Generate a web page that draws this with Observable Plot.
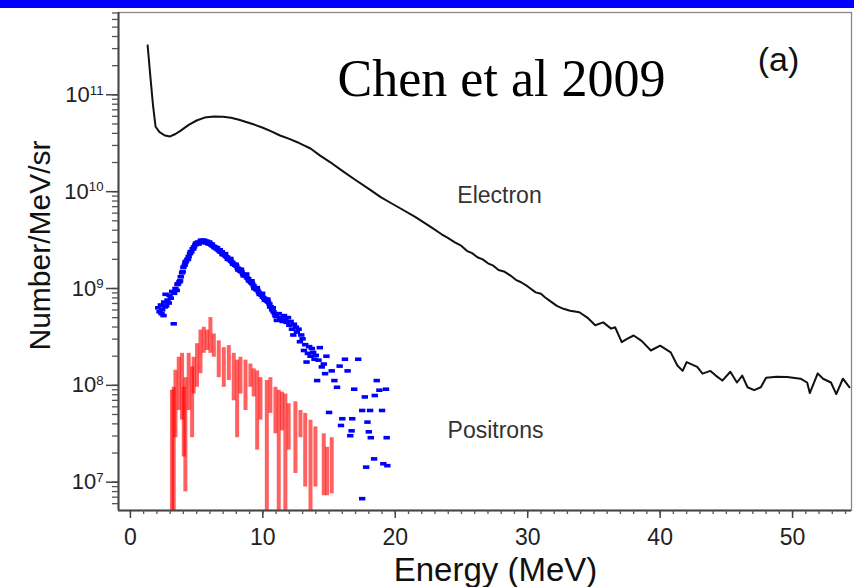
<!DOCTYPE html>
<html>
<head>
<meta charset="utf-8">
<script src="https://cdn.jsdelivr.net/npm/d3@7"></script>
<script src="https://cdn.jsdelivr.net/npm/@observablehq/plot@0.6"></script>
<style>
  body { margin: 0; background: #fff; }
  #wrap { position: relative; width: 854px; height: 587px; overflow: hidden; }
  #bar { position: absolute; left: 0; top: 0; width: 854px; height: 8px; background: #0000ff; }
  #wrap svg { position: absolute; left: 0; top: 0; }
</style>
</head>
<body>
<div id="wrap"><div id="bar"></div></div>
<script>
// Electron spectrum (MeV, Number/MeV/sr)
const electronE = [
  1.3, 1.5, 1.7, 1.9, 2.2, 2.6, 3.0, 3.4, 3.8, 4.4,
  5.0, 5.6, 6.3, 7.0, 7.6, 8.2, 8.8, 9.4, 10.0, 10.6,
  11.3, 12.0, 12.6, 13.1, 13.6, 14.3, 15.1, 16.0, 17.0, 18.0,
  18.9, 19.7, 20.4, 21.5, 22.7, 23.5, 24.0, 24.5, 25.0, 25.4,
  25.8, 26.2, 26.6, 27.0, 27.4, 27.8, 28.2, 28.7, 29.1, 29.5,
  30.0, 30.6, 31.0, 31.3, 31.7, 32.2, 32.7, 33.2, 33.9, 34.5,
  35.1, 35.7, 36.3, 36.6, 37.1, 37.5, 38.0, 38.6, 39.3, 40.0,
  40.8, 41.3, 41.7, 42.0, 42.8, 43.2, 43.8, 44.2, 44.7, 45.3,
  45.8, 46.2, 46.6, 47.1, 47.6, 48.0, 48.8, 49.6, 50.6, 51.1,
  51.3, 51.9, 52.3, 52.9, 53.3, 53.8, 54.3
];
const electronN = [
  3.24e11, 1.58e11, 7.94e10, 4.68e10, 4.12e10, 3.80e10, 3.72e10, 3.94e10, 4.27e10, 4.90e10,
  5.43e10, 5.82e10, 5.97e10, 5.93e10, 5.79e10, 5.52e10, 5.21e10, 4.90e10, 4.57e10, 4.22e10,
  3.80e10, 3.51e10, 3.24e10, 3.01e10, 2.79e10, 2.37e10, 2.01e10, 1.64e10, 1.32e10, 1.07e10,
  8.77e9, 7.59e9, 6.70e9, 5.50e9, 4.30e9, 3.63e9, 3.31e9, 2.99e9, 2.75e9, 2.45e9,
  2.32e9, 2.10e9, 2.00e9, 1.82e9, 1.72e9, 1.55e9, 1.50e9, 1.36e9, 1.23e9, 1.16e9,
  1.05e9, 9.12e8, 8.81e8, 8.13e8, 7.41e8, 6.61e8, 6.17e8, 5.89e8, 5.69e8, 5.01e8,
  4.17e8, 4.47e8, 3.85e8, 3.98e8, 2.79e8, 3.02e8, 3.27e8, 2.88e8, 2.29e8, 2.57e8,
  2.19e8, 1.60e8, 1.41e8, 1.74e8, 1.55e8, 1.32e8, 1.41e8, 1.26e8, 1.12e8, 1.38e8,
  1.07e8, 1.26e8, 9.55e7, 8.91e7, 9.55e7, 1.20e8, 1.23e8, 1.22e8, 1.17e8, 1.07e8,
  8.32e7, 1.33e8, 1.17e8, 1.07e8, 8.13e7, 1.17e8, 9.55e7
];

// Positron spectrum, first detector (blue points)
const blueE = [
  2.1, 2.2, 2.3, 2.4, 2.5, 2.55, 2.65, 2.7, 2.8, 2.9,
  2.95, 3.05, 3.15, 3.27, 3.3, 3.4, 3.5, 3.6, 3.7, 3.8,
  3.9, 4.0, 4.1, 4.2, 4.3, 4.4, 4.5, 4.6, 4.7, 4.8,
  4.9, 5.0, 5.1, 5.2, 5.3, 5.4, 5.5, 5.6, 5.7, 5.8,
  5.9, 6.0, 6.1, 6.2, 6.3, 6.4, 6.5, 6.6, 6.7, 6.8,
  6.9, 7.0, 7.1, 7.2, 7.3, 7.4, 7.5, 7.6, 7.7, 7.8,
  7.9, 8.0, 8.1, 8.2, 8.3, 8.4, 8.5, 8.6, 8.7, 8.8,
  8.9, 9.0, 9.1, 9.2, 9.3, 9.4, 9.5, 9.6, 9.7, 9.8,
  9.9, 10.0, 10.1, 10.2, 10.3, 10.4, 10.5, 10.6, 10.7, 10.8,
  10.9, 11.0, 11.06, 11.2, 11.3, 11.4, 11.5, 11.6, 11.7, 11.8,
  11.9, 12.0, 12.1, 12.2, 12.35, 12.5, 12.57, 12.7, 12.9, 13.1,
  13.3, 13.5, 13.6, 13.8, 13.9, 14.1, 14.3, 14.45, 14.6, 14.8,
  15.0, 15.2, 15.4, 15.6, 15.8, 15.9, 16.0, 16.2, 16.4, 16.6,
  16.7, 16.75, 16.9, 17.2, 17.5, 17.5, 17.7, 17.8, 17.9, 18.0,
  18.1, 18.15, 18.4, 18.45, 18.6, 18.8, 19.0, 19.1, 19.3, 19.35,
  19.4, 12.3, 12.8, 13.0, 13.2, 13.4, 13.7, 14.0, 14.2, 14.7,
  3.55, 3.75, 3.95, 4.15, 4.35, 4.55, 4.75, 4.95, 5.15, 5.35,
  5.55, 5.75, 5.95, 6.15, 6.35, 6.55, 6.75, 6.95, 7.15, 7.35,
  7.55, 7.75, 7.95, 8.15, 8.35, 8.55, 8.75, 8.95, 9.15, 9.35,
  9.55, 9.75, 9.95, 10.15, 10.35, 10.55, 10.75, 10.95, 2.35, 2.6
];
const blueN = [
  6.31e8, 5.75e8, 6.76e8, 6.03e8, 5.25e8, 7.24e8, 8.71e8, 6.61e8, 7.59e8, 7.08e8,
  8.51e8, 7.94e8, 9.33e8, 4.32e8, 8.91e8, 1.00e9, 9.55e8, 1.12e9, 1.17e9, 1.32e9,
  1.45e9, 1.66e9, 1.74e9, 1.91e9, 2.00e9, 2.14e9, 2.29e9, 2.40e9, 2.57e9, 2.69e9,
  2.82e9, 2.88e9, 3.02e9, 2.95e9, 3.09e9, 3.05e9, 3.02e9, 3.09e9, 2.95e9, 2.99e9,
  2.88e9, 2.92e9, 2.82e9, 2.75e9, 2.72e9, 2.69e9, 2.57e9, 2.51e9, 2.45e9, 2.37e9,
  2.40e9, 2.29e9, 2.21e9, 2.14e9, 2.11e9, 2.04e9, 1.97e9, 1.91e9, 1.86e9, 1.78e9,
  1.74e9, 1.70e9, 1.62e9, 1.58e9, 1.51e9, 1.48e9, 1.41e9, 1.38e9, 1.35e9, 1.29e9,
  1.26e9, 1.20e9, 1.15e9, 1.12e9, 1.07e9, 1.02e9, 9.77e8, 9.55e8, 9.12e8, 8.71e8,
  8.51e8, 8.13e8, 7.94e8, 7.76e8, 7.41e8, 7.24e8, 6.92e8, 6.46e8, 6.03e8, 5.75e8,
  5.50e8, 5.13e8, 4.68e8, 5.50e8, 5.01e8, 4.90e8, 4.57e8, 5.25e8, 4.79e8, 4.47e8,
  5.01e8, 4.17e8, 4.57e8, 3.80e8, 4.27e8, 3.98e8, 3.55e8, 3.80e8, 3.31e8, 2.29e8,
  1.74e8, 2.51e8, 2.00e8, 2.19e8, 1.86e8, 1.12e8, 2.45e8, 1.55e8, 1.66e8, 2.00e8,
  5.25e7, 1.41e8, 1.12e8, 9.55e7, 1.58e8, 3.85e7, 4.52e7, 1.86e8, 1.41e8, 3.02e7,
  3.39e7, 4.52e7, 9.12e7, 1.86e8, 5.50e7, 6.76e6, 7.59e7, 1.43e7, 4.17e7, 3.31e7,
  5.50e7, 2.88e7, 1.74e7, 7.85e7, 1.12e8, 8.91e7, 5.50e7, 1.55e7, 9.12e7, 2.88e7,
  1.48e7, 3.31e8, 2.82e8, 3.02e8, 2.63e8, 2.14e8, 2.40e8, 2.04e8, 1.82e8, 1.32e8,
  1.10e9, 1.20e9, 1.50e9, 1.86e9, 2.00e9, 2.40e9, 2.57e9, 2.95e9, 2.88e9, 3.16e9,
  3.16e9, 3.09e9, 3.02e9, 2.88e9, 2.63e9, 2.63e9, 2.51e9, 2.24e9, 2.29e9, 2.00e9,
  2.04e9, 1.78e9, 1.78e9, 1.55e9, 1.58e9, 1.35e9, 1.41e9, 1.20e9, 1.20e9, 1.00e9,
  1.02e9, 8.71e8, 8.91e8, 7.59e8, 7.76e8, 6.46e8, 6.31e8, 5.25e8, 5.50e8, 6.46e8
];

// Positron spectrum, second detector (red error bars: low / high bounds)
const redE = [
  3.14, 3.27, 3.4, 3.65, 3.9, 4.03, 4.15, 4.4, 4.66, 4.78,
  5.03, 5.29, 5.54, 5.79, 6.04, 6.3, 6.67, 7.05, 7.43, 7.8,
  8.06, 8.31, 8.69, 9.06, 9.31, 9.57, 9.82, 10.3, 10.57, 10.95,
  11.2, 11.45, 11.7, 11.95, 12.46, 12.84, 13.2, 13.6, 13.97, 14.6,
  14.85, 15.2
];
const redHi = [
  8.91e7, 9.55e7, 1.43e8, 1.95e8, 2.14e8, 9.55e7, 1.20e8, 2.14e8, 1.55e8, 1.95e8,
  2.69e8, 3.72e8, 3.98e8, 3.72e8, 5.01e8, 3.39e8, 2.88e8, 2.45e8, 2.57e8, 2.14e8,
  1.82e8, 1.95e8, 1.82e8, 1.66e8, 1.48e8, 1.41e8, 1.20e8, 1.12e8, 1.20e8, 9.55e7,
  8.91e7, 8.51e7, 8.13e7, 6.46e7, 6.76e7, 5.50e7, 5.13e7, 4.37e7, 3.72e7, 3.16e7,
  2.29e7, 2.88e7
];
const redLo = [
  1e6, 1e6, 2.88e7, 5.50e7, 4.37e7, 1.82e7, 7.94e6, 5.50e7, 2.88e7, 8.13e7,
  9.55e7, 1.32e8, 2.14e8, 2.29e8, 2.14e8, 1.95e8, 1.20e8, 9.55e7, 1.12e8, 6.92e7,
  2.88e7, 8.13e7, 5.50e7, 9.55e7, 7.59e7, 2.14e7, 4.37e7, 1e6, 5.13e7, 3.16e7,
  1e6, 3.39e7, 1e6, 2.14e7, 1.23e7, 2.88e7, 8.91e6, 1e6, 8.91e6, 7.24e6,
  7.24e6, 7.59e6
];

// Axes
const xDomain = [-0.9, 54.45];
const yDomain = [5.1e6, 7.08e11];
const xTicks = [0, 10, 20, 30, 40, 50];
const xTickLabels = ["0", "10", "20", "30", "40", "50"];
const yTicks = [1e7, 1e8, 1e9, 1e10, 1e11];
const yTickExp = ["7", "8", "9", "10", "11"];

const electron = electronE.map((e, i) => ({e, n: electronN[i]}));
const blue = blueE.map((e, i) => ({e, n: blueN[i]}));
const red = redE.map((e, i) => ({e, lo: redLo[i], hi: redHi[i]}));

const xMinor = d3.range(0, 55);
const yMinor = d3.scaleLog().domain(yDomain).ticks();

const sans = "'Liberation Sans', Arial, Helvetica, sans-serif";
const dash = {draw(ctx) { ctx.rect(-3.2, -1.8, 6.4, 3.6); }};

const chart = Plot.plot({
  width: 854,
  height: 587,
  marginLeft: 118,
  marginRight: 3,
  marginTop: 12,
  marginBottom: 77,
  style: {fontFamily: sans, background: "transparent", color: "#222", overflow: "visible"},
  x: {domain: xDomain, label: null},
  y: {type: "log", domain: yDomain, label: null},
  marks: [
    Plot.frame({stroke: "#888", strokeWidth: 1.3}),
    Plot.ruleX([xDomain[0]], {stroke: "#444", strokeWidth: 2}),
    Plot.ruleY([yDomain[0]], {stroke: "#444", strokeWidth: 2}),
    Plot.axisX(xMinor, {tickSize: 4, tickFormat: () => "", stroke: "#555", strokeWidth: 1.3, label: null}),
    Plot.axisX(xTicks, {
      tickSize: 8, tickPadding: 10, fontSize: 23, stroke: "#444", strokeWidth: 1.5,
      fill: "#222", label: null, tickFormat: d => xTickLabels[xTicks.indexOf(d)]
    }),
    Plot.axisY(yMinor, {tickSize: 6, tickFormat: () => "", stroke: "#555", strokeWidth: 1.3, label: null}),
    Plot.axisY(yTicks, {
      tickSize: 12, tickPadding: 3, fontSize: 22, stroke: "#444", strokeWidth: 1.5,
      fill: "#222", label: null, tickFormat: d => "10^" + yTickExp[yTicks.indexOf(d)]
    }),
    Plot.dot(blue, {x: "e", y: "n", symbol: dash, fill: "#0000ff", stroke: "none", clip: true}),
    Plot.ruleX(red, {x: "e", y1: "lo", y2: "hi", stroke: "#ff0000", strokeOpacity: 0.62, strokeWidth: 4, clip: true}),
    Plot.line(electron, {x: "e", y: "n", stroke: "#111", strokeWidth: 2, clip: true}),
    Plot.text(["Chen et al 2009"], {
      frameAnchor: "top", dx: 16.5, dy: 67, lineAnchor: "middle", textAnchor: "middle",
      fontFamily: "'Liberation Serif', 'Times New Roman', serif", fontSize: 52, fill: "#000"
    }),
    Plot.text(["(a)"], {
      frameAnchor: "top", dx: 293.5, dy: 48, lineAnchor: "middle", textAnchor: "middle",
      fontSize: 34, fill: "#111"
    }),
    Plot.text(["Electron"], {
      frameAnchor: "middle", dx: 14.5, dy: -65.5, lineAnchor: "middle", textAnchor: "middle",
      fontSize: 23, fill: "#333"
    }),
    Plot.text(["Positrons"], {
      frameAnchor: "middle", dx: 10.5, dy: 169, lineAnchor: "middle", textAnchor: "middle",
      fontSize: 23, fill: "#333"
    }),
    Plot.text(["Number/MeV/sr"], {
      frameAnchor: "left", dx: -78, dy: -16, rotate: -90, lineAnchor: "middle", textAnchor: "middle",
      fontSize: 30, fill: "#111"
    }),
    Plot.text(["Energy (MeV)"], {
      frameAnchor: "bottom", dx: 10.5, dy: 59.5, lineAnchor: "middle", textAnchor: "middle",
      fontSize: 33, fill: "#111"
    })
  ]
});

// Render the decade labels as 10 with a raised exponent
d3.select(chart).selectAll("text").each(function () {
  const t = this.textContent;
  if (t.startsWith("10^")) {
    const exp = t.slice(3);
    const sel = d3.select(this);
    sel.text("10");
    sel.append("tspan").attr("dy", "-0.55em").attr("font-size", "0.6em").text(exp);
  }
});

document.getElementById("wrap").insertBefore(chart, document.getElementById("bar"));
</script>
</body>
</html>
